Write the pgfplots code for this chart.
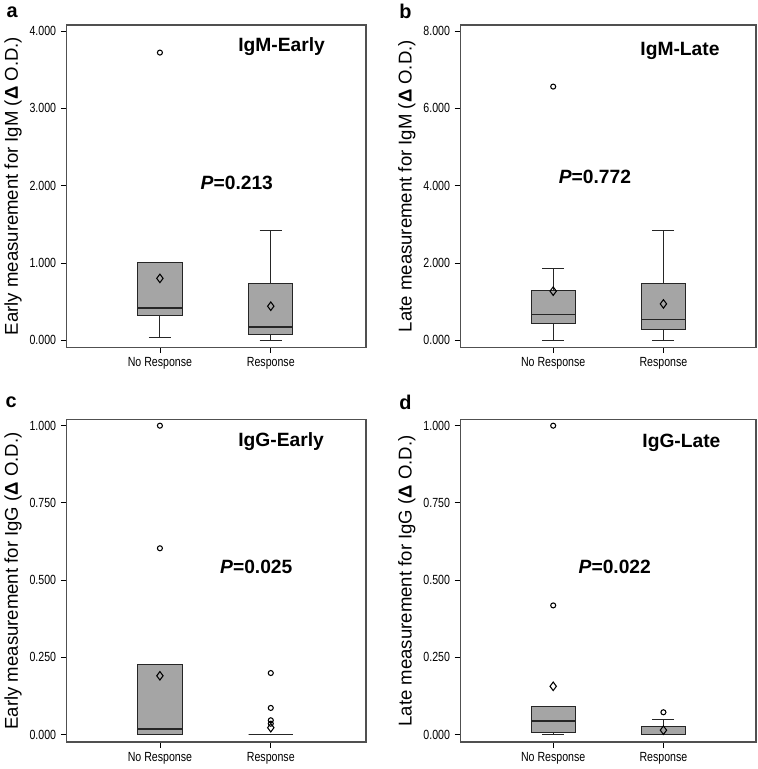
\documentclass[border=0pt]{standalone}
\usepackage{pgfplots}
\pgfplotsset{compat=1.18}
\usepgfplotslibrary{statistics}
\usepackage{fontspec}
\setmainfont{Liberation Sans}
\newfontfamily\narrow[FakeStretch=0.8]{Liberation Sans}
\definecolor{boxgray}{HTML}{A5A5A5}
\definecolor{framegray}{HTML}{505050}

\pgfplotsset{
 panel/.style={
  scale only axis, width=225.75pt, height=243pt,
  xmin=0.16, xmax=2.86,
  xtick={1,2}, xticklabels={No Response, Response},
  tick pos=left, tick align=outside, major tick length=4.5pt,
  axis line style={draw=framegray, line width=1pt},
  tick style={black, line width=0.6pt},
  ticklabel style={font=\narrow\fontsize{10}{11}\selectfont},
  /pgf/number format/assume math mode=true,
  yticklabel style={/pgf/number format/.cd, fixed, fixed zerofill, precision=3},
  every axis y label/.style={at={(axis description cs:0,0.5)}, xshift=-40.5pt, rotate=90, anchor=center, font=\fontsize{14}{16}\selectfont},
  boxplot/draw direction=y,
  boxplot/box extend=0.4,
  boxplot/whisker extend=0.2,
  boxplot/every median/.style={line width=1.1pt},
  clip=false,
 },
 bx/.style={boxplot prepared={#1}, draw=black!85, fill=boxgray, line width=0.75pt, solid, mark=none},
 outl/.style={only marks, mark=o, mark size=1.9pt, black, line width=0.8pt},
 avg/.style={only marks, mark=diamond, mark size=3.2pt, black, line width=0.8pt},
}

\begin{document}
\begin{tikzpicture}
\path (0,0) rectangle (570.75pt,576.75pt);

% ---- a ----
\begin{axis}[panel, at={(49.5pt,316.5pt)}, anchor=south west,
  ymin=-0.09, ymax=4.077, ytick={0,1,2,3,4},
  ylabel={Early measurement for IgM (\textbf{Δ} O.D.)}]
\addplot[bx={draw position=1, lower whisker=0.03, lower quartile=0.32, median=0.42, upper quartile=1.0, upper whisker=1.0}] coordinates {};
\addplot[bx={draw position=2, lower whisker=0.0, lower quartile=0.07, median=0.17, upper quartile=0.74, upper whisker=1.42}] coordinates {};
\addplot[outl] coordinates {(1,3.72)};
\addplot[avg] coordinates {(1,0.80) (2,0.44)};
\end{axis}

% ---- b ----
\begin{axis}[panel, at={(346.5pt,316.5pt)}, anchor=south west, width=222.75pt, xmax=2.84,
  ymin=-0.18, ymax=8.154, ytick={0,2,4,6,8},
  ylabel={Late measurement for IgM (\textbf{Δ} O.D.)}]
\addplot[bx={draw position=1, lower whisker=0.0, lower quartile=0.43, median=0.66, upper quartile=1.29, upper whisker=1.86}] coordinates {};
\addplot[bx={draw position=2, lower whisker=0.0, lower quartile=0.28, median=0.54, upper quartile=1.46, upper whisker=2.85}] coordinates {};
\addplot[outl] coordinates {(1,6.56)};
\addplot[avg] coordinates {(1,1.27) (2,0.94)};
\end{axis}

% ---- c ----
\begin{axis}[panel, at={(49.5pt,18.75pt)}, anchor=south west,
  ymin=-0.0245, ymax=1.019, ytick={0,0.25,0.5,0.75,1},
  ylabel={Early measurement for IgG (\textbf{Δ} O.D.)}]
\addplot[bx={draw position=1, lower whisker=0.0, lower quartile=0.0, median=0.018, upper quartile=0.228, upper whisker=0.228}] coordinates {};
\addplot[bx={draw position=2, lower whisker=0.0, lower quartile=0.0, median=0.0, upper quartile=0.0, upper whisker=0.0}] coordinates {};
\addplot[outl] coordinates {(1,1.0) (1,0.603) (2,0.199) (2,0.086) (2,0.046) (2,0.035)};
\addplot[avg] coordinates {(1,0.19) (2,0.022)};
\end{axis}

% ---- d ----
\begin{axis}[panel, at={(346.5pt,18.75pt)}, anchor=south west, width=222.75pt, xmax=2.84,
  ymin=-0.0245, ymax=1.019, ytick={0,0.25,0.5,0.75,1},
  ylabel={Late measurement for IgG (\textbf{Δ} O.D.)}]
\addplot[bx={draw position=1, lower whisker=0.0, lower quartile=0.008, median=0.043, upper quartile=0.091, upper whisker=0.091}] coordinates {};
\addplot[bx={draw position=2, lower whisker=0.0, lower quartile=0.0, median=0.0, upper quartile=0.027, upper whisker=0.050}] coordinates {};
\addplot[outl] coordinates {(1,1.0) (1,0.418) (2,0.072)};
\addplot[avg] coordinates {(1,0.156) (2,0.014)};
\end{axis}

% titles and annotations
\begin{scope}[every node/.style={font=\bfseries\fontsize{14.5}{16}\selectfont}]
\node at (211.5pt,543pt) {IgM-Early};
\node at (511.9pt,540pt) {IgM-Late};
\node at (211.1pt,245.25pt) {IgG-Early};
\node at (513pt,244.5pt) {IgG-Late};
\node at (177.75pt,440.25pt) {\textit{P}=0.213};
\node at (447.75pt,444.75pt) {\textit{P}=0.772};
\node at (192.4pt,151pt) {\textit{P}=0.025};
\node at (462.75pt,151pt) {\textit{P}=0.022};
\end{scope}
\begin{scope}[every node/.style={font=\bfseries\fontsize{15}{17}\selectfont}]
\node at (8.25pt,569.25pt) {a};
\node at (304.9pt,569.5pt) {b};
\node at (7.5pt,275.25pt) {c};
\node at (304.9pt,275.25pt) {d};
\end{scope}
\end{tikzpicture}
\end{document}
